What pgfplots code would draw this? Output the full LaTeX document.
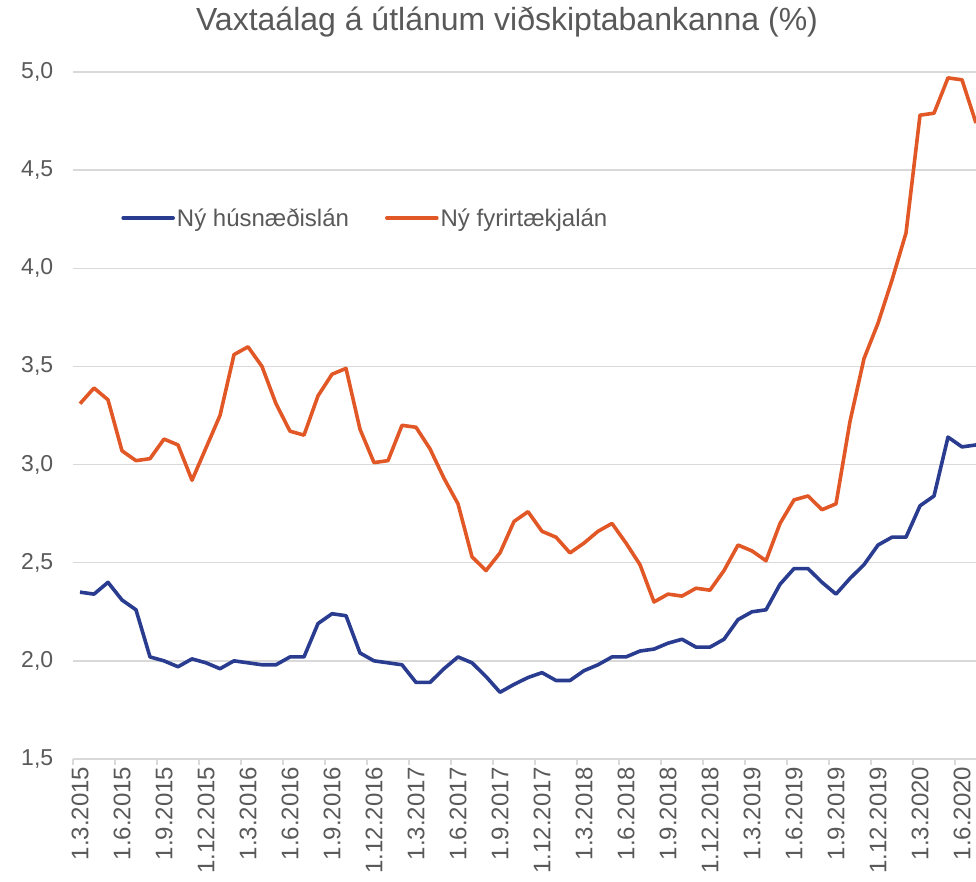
\documentclass[border=0pt]{standalone}
\usepackage{pgfplots}
\pgfplotsset{compat=1.18}
\usepackage{fontspec}
\setmainfont{Liberation Sans}
\definecolor{husblue}{RGB}{41,60,143}
\definecolor{fyrorange}{RGB}{226,87,38}
\definecolor{gridgray}{RGB}{217,217,217}
\definecolor{txtgray}{RGB}{89,89,89}
\begin{document}
\begin{tikzpicture}
\useasboundingbox (0,0) rectangle (976pt,882pt);
\begin{axis}[
  at={(73pt,123pt)}, anchor=south west,
  scale only axis, width=903pt, height=687pt,
  xmin=-0.5, xmax=64, ymin=1.5, ymax=5.0,
  axis lines*=left,
  x axis line style={draw=gridgray, line width=1.3pt},
  y axis line style={draw=none},
  ytick={1.5,2,...,5.0},
  ymajorgrids, grid style={gridgray, line width=1.3pt},
  yticklabel style={/pgf/number format/fixed, /pgf/number format/fixed zerofill,
    /pgf/number format/precision=1, /pgf/number format/use comma,
    /pgf/number format/assume math mode=true,
    xshift=-12pt, font=\fontsize{23}{27}\selectfont},
  ytick style={draw=none},
  xtick={0,3,...,63},
  xticklabels={1.3.2015,1.6.2015,1.9.2015,1.12.2015,1.3.2016,1.6.2016,1.9.2016,1.12.2016,1.3.2017,1.6.2017,1.9.2017,1.12.2017,1.3.2018,1.6.2018,1.9.2018,1.12.2018,1.3.2019,1.6.2019,1.9.2019,1.12.2019,1.3.2020,1.6.2020},
  major x tick style={draw=none},
  minor xtick={-0.5,2.5,...,62.5},
  minor x tick style={draw=gridgray, line width=1.3pt},
  minor tick length=6pt,
  tick align=outside,
  xticklabel style={rotate=90, anchor=east, font=\fontsize{24}{28}\selectfont},
  tick label style={text=txtgray},
  legend style={draw=none, fill=none, at={(0.05,0.7875)}, anchor=west,
    font=\fontsize{24}{28}\selectfont, text=txtgray, legend columns=2,
    /tikz/every even column/.append style={column sep=34pt},
    nodes={inner sep=2pt}},
  legend image code/.code={\draw[#1, line width=3.6pt, line cap=round] (0pt,0pt) -- (50pt,0pt);},
]
\addplot[husblue, line width=3.6pt, line join=round] table[row sep=crcr] {
x y\\
0 2.35\\ 1 2.34\\ 2 2.40\\ 3 2.31\\ 4 2.26\\ 5 2.02\\ 6 2.00\\ 7 1.97\\ 8 2.01\\ 9 1.99\\
10 1.96\\ 11 2.00\\ 12 1.99\\ 13 1.98\\ 14 1.98\\ 15 2.02\\ 16 2.02\\ 17 2.19\\ 18 2.24\\ 19 2.23\\
20 2.04\\ 21 2.00\\ 22 1.99\\ 23 1.98\\ 24 1.89\\ 25 1.89\\ 26 1.96\\ 27 2.02\\ 28 1.99\\ 29 1.92\\
30 1.84\\ 31 1.88\\ 32 1.915\\ 33 1.94\\ 34 1.90\\ 35 1.90\\ 36 1.95\\ 37 1.98\\ 38 2.02\\ 39 2.02\\
40 2.05\\ 41 2.06\\ 42 2.09\\ 43 2.11\\ 44 2.07\\ 45 2.07\\ 46 2.11\\ 47 2.21\\ 48 2.25\\ 49 2.26\\
50 2.39\\ 51 2.47\\ 52 2.47\\ 53 2.40\\ 54 2.34\\ 55 2.42\\ 56 2.49\\ 57 2.59\\ 58 2.63\\ 59 2.63\\
60 2.79\\ 61 2.84\\ 62 3.14\\ 63 3.09\\ 64 3.10\\
};
\addlegendentry{Ný húsnæðislán}
\addplot[fyrorange, line width=3.6pt, line join=round] table[row sep=crcr] {
x y\\
0 3.31\\ 1 3.39\\ 2 3.33\\ 3 3.07\\ 4 3.02\\ 5 3.03\\ 6 3.13\\ 7 3.10\\ 8 2.92\\ 9 3.085\\
10 3.25\\ 11 3.56\\ 12 3.60\\ 13 3.50\\ 14 3.31\\ 15 3.17\\ 16 3.15\\ 17 3.35\\ 18 3.46\\ 19 3.49\\
20 3.18\\ 21 3.01\\ 22 3.02\\ 23 3.20\\ 24 3.19\\ 25 3.08\\ 26 2.93\\ 27 2.80\\ 28 2.53\\ 29 2.46\\
30 2.55\\ 31 2.71\\ 32 2.76\\ 33 2.66\\ 34 2.63\\ 35 2.55\\ 36 2.60\\ 37 2.66\\ 38 2.70\\ 39 2.60\\
40 2.49\\ 41 2.30\\ 42 2.34\\ 43 2.33\\ 44 2.37\\ 45 2.36\\ 46 2.46\\ 47 2.59\\ 48 2.56\\ 49 2.51\\
50 2.70\\ 51 2.82\\ 52 2.84\\ 53 2.77\\ 54 2.80\\ 55 3.22\\ 56 3.54\\ 57 3.72\\ 58 3.94\\ 59 4.18\\
60 4.78\\ 61 4.79\\ 62 4.97\\ 63 4.96\\ 64 4.74\\
};
\addlegendentry{Ný fyrirtækjalán}
\end{axis}
\node[font=\fontsize{32}{37}\selectfont, text=txtgray] at (507pt,860pt) {Vaxtaálag á útlánum viðskiptabankanna (\%)};
\end{tikzpicture}
\end{document}
